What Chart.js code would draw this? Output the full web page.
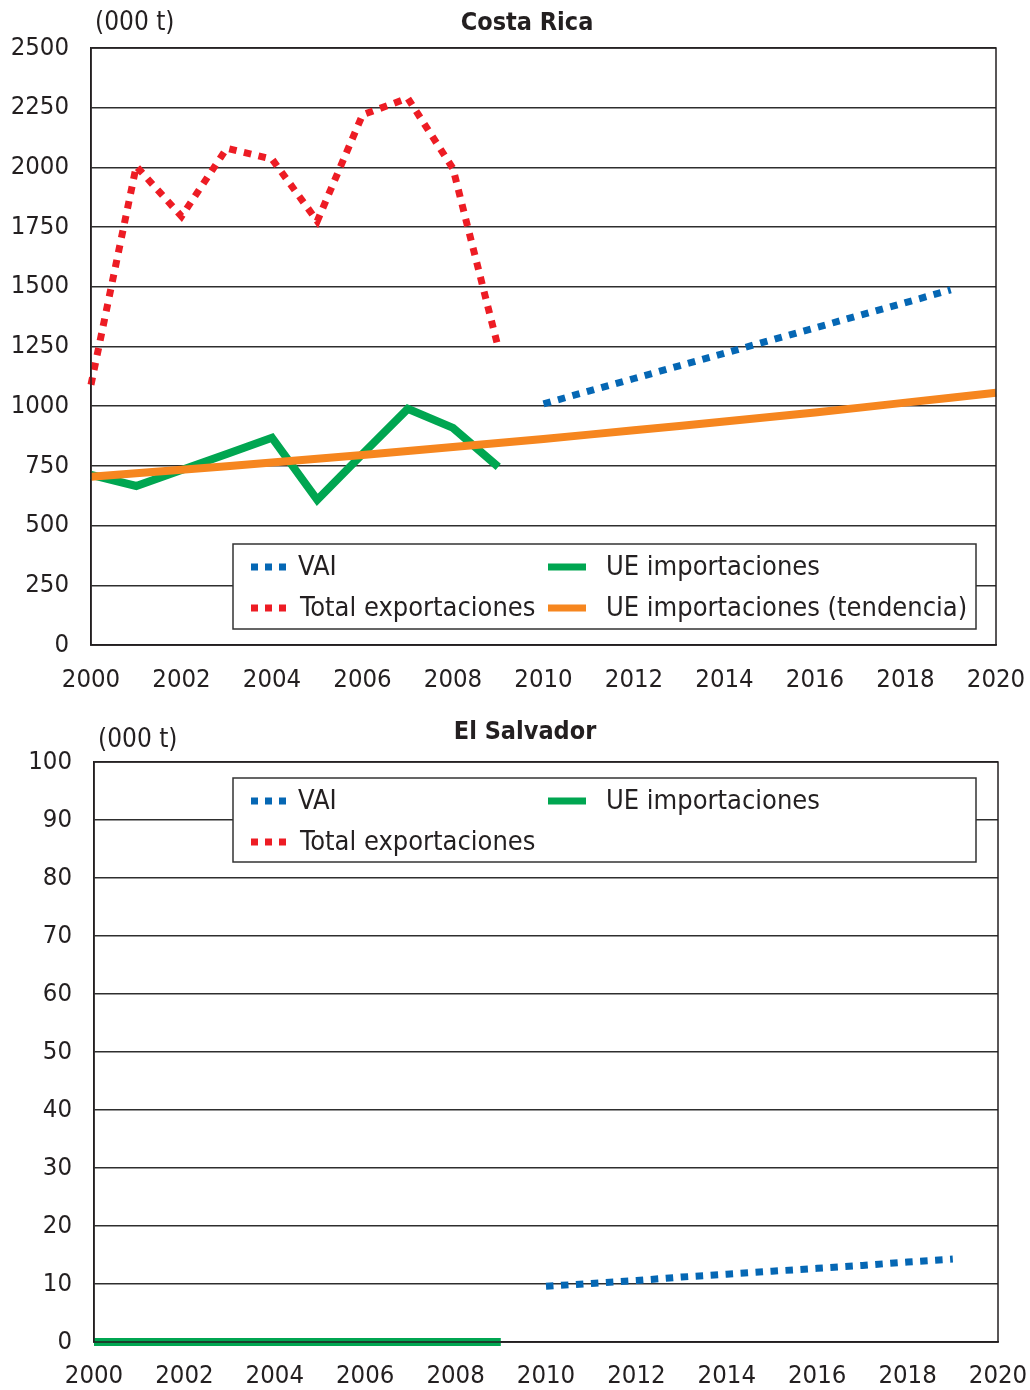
<!DOCTYPE html>
<html>
<head>
<meta charset="utf-8">
<script src="https://cdn.jsdelivr.net/npm/chart.js@4.4.1/dist/chart.umd.min.js"></script>
<style>
  html, body { margin: 0; padding: 0; background: #ffffff; }
  canvas { display: block; }
</style>
</head>
<body>
<canvas id="cr" width="1030" height="705"></canvas>
<canvas id="sv" width="1030" height="685"></canvas>
<script>
// ---------- DATA ----------
const histYears = [2000, 2001, 2002, 2003, 2004, 2005, 2006, 2007, 2008, 2009];
const trendYears = [2000, 2001, 2002, 2003, 2004, 2005, 2006, 2007, 2008, 2009, 2010,
                    2011, 2012, 2013, 2014, 2015, 2016, 2017, 2018, 2019, 2020];
const vaiYears = [2010, 2011, 2012, 2013, 2014, 2015, 2016, 2017, 2018, 2019];

// Costa Rica (000 t)
const crTotalExport = [1090, 2005, 1795, 2080, 2035, 1775, 2220, 2290, 1995, 1245];
const crEuImport = [712, 666, 733, 800, 868, 608, 800, 989, 909, 746];
const crEuTrend = [705, 719, 734, 749, 764, 780, 796, 812, 829, 846, 863,
                   881, 899, 917, 936, 955, 974, 994, 1015, 1035, 1056];
const crVai = [1010, 1063, 1116, 1169, 1222, 1275, 1328, 1381, 1434, 1487];

// El Salvador (000 t)
const svEuImport = [0, 0, 0, 0, 0, 0, 0, 0, 0, 0];
const svVai = [9.6, 10.1, 10.6, 11.2, 11.7, 12.2, 12.7, 13.2, 13.8, 14.3];

const xTickStep = 2;
const crYMax = 2500, crYStep = 250;
const svYMax = 100, svYStep = 10;

const labelVai = 'VAI';
const labelTotal = 'Total exportaciones';
const labelEu = 'UE importaciones';
const labelTrend = 'UE importaciones (tendencia)';

// ---------- STYLE ----------
const FONT = "'DejaVu Sans Condensed', 'Open Sans', sans-serif";
const TXT = '#231f20';
const C_BLUE = '#0567b4';
const C_RED = '#ed1c24';
const C_GREEN = '#00a651';
const C_ORANGE = '#f6861f';

function pts(xs, ys) { return xs.map((x, i) => ({ x: x, y: ys[i] })); }

function dotted(label, xs, ys, color) {
  return { label, data: pts(xs, ys), borderColor: color, backgroundColor: color,
    borderWidth: 7, borderDash: [7.5, 7.5], borderCapStyle: 'butt', pointRadius: 0,
    tension: 0, fill: false, clip: false, _kind: 'dot' };
}
function solid(label, xs, ys, color) {
  return { label, data: pts(xs, ys), borderColor: color, backgroundColor: color,
    borderWidth: 8, borderCapStyle: 'butt', borderJoinStyle: 'miter', pointRadius: 0,
    tension: 0, fill: false, clip: false, _kind: 'solid' };
}

const framePlugin = {
  id: 'frame',
  afterDraw(chart, args, opts) {
    const ctx = chart.ctx, a = chart.chartArea;
    ctx.save();
    // plot frame
    ctx.strokeStyle = TXT; ctx.lineWidth = 1.5;
    ctx.strokeRect(a.left, a.top, a.right - a.left, a.bottom - a.top);
    // titles
    ctx.fillStyle = TXT;
    ctx.textBaseline = 'middle';
    ctx.font = "26px " + FONT;
    ctx.textAlign = 'left';
    ctx.fillText('(000 t)', opts.unitX, opts.unitY);
    ctx.font = "bold 25px " + FONT;
    ctx.textAlign = 'center';
    ctx.fillText(opts.title, opts.titleX, opts.titleY);
    // legend box
    const b = opts.box;
    ctx.fillStyle = '#ffffff';
    ctx.fillRect(b.x, b.y, b.w, b.h);
    ctx.strokeStyle = '#333333'; ctx.lineWidth = 1.5;
    ctx.strokeRect(b.x, b.y, b.w, b.h);
    ctx.font = "27px " + FONT;
    ctx.textAlign = 'left';
    opts.items.forEach(it => {
      const ds = chart.data.datasets[it.ds];
      const y = b.y + it.dy;
      ctx.fillStyle = ds.borderColor;
      if (ds._kind === 'dot') {
        for (let k = 0; k < 3; k++) ctx.fillRect(it.sx + k * 14, y - 3.5, 7, 7);
      } else {
        ctx.fillRect(it.sx, y - 3.5, 38, 7);
      }
      ctx.fillStyle = TXT;
      ctx.fillText(ds.label, it.tx, y + 1);
    });
    ctx.restore();
  }
};

function makeChart(id, datasets, yMax, yStep, yAxisWidth, xAxisHeight, xPad, pad, frame) {
  return new Chart(document.getElementById(id), {
    type: 'line',
    data: { datasets },
    options: {
      responsive: false,
      animation: false,
      layout: { padding: pad },
      plugins: { legend: { display: false }, tooltip: { enabled: false }, title: { display: false }, frame },
      scales: {
        x: {
          type: 'linear', min: 2000, max: 2020,
          ticks: { stepSize: xTickStep, color: TXT, font: { family: FONT, size: 25.5 }, padding: xPad,
                   maxRotation: 0, callback: v => String(v) },
          grid: { display: false, drawTicks: false },
          border: { display: true, color: TXT, width: 1.5 },
          afterFit: s => { s.height = xAxisHeight; s.paddingLeft = 0; s.paddingRight = 0; }
        },
        y: {
          min: 0, max: yMax,
          ticks: { stepSize: yStep, color: TXT, font: { family: FONT, size: 25.5 }, padding: 22,
                   callback: v => String(v) },
          grid: { color: '#2e2e2e', lineWidth: 1.5, drawTicks: false },
          border: { display: true, color: TXT, width: 1.5 },
          afterFit: s => { s.width = yAxisWidth; s.paddingTop = 0; s.paddingBottom = 0; }
        }
      }
    },
    plugins: [framePlugin]
  });
}

// Costa Rica
makeChart('cr', [
  dotted(labelVai, vaiYears, crVai, C_BLUE),
  dotted(labelTotal, histYears, crTotalExport, C_RED),
  solid(labelTrend, trendYears, crEuTrend, C_ORANGE),
  solid(labelEu, histYears, crEuImport, C_GREEN)
], crYMax, crYStep, 91, 60, 20, { top: 48, right: 34, left: 0, bottom: 0 }, {
  title: 'Costa Rica', titleX: 527, titleY: 23, unitX: 95, unitY: 23,
  box: { x: 233, y: 544, w: 743, h: 85 },
  items: [
    { ds: 0, dy: 23, sx: 251, tx: 298 },
    { ds: 1, dy: 64, sx: 251, tx: 300 },
    { ds: 3, dy: 23, sx: 548, tx: 606 },
    { ds: 2, dy: 64, sx: 548, tx: 606 }
  ]
});

// El Salvador
makeChart('sv', [
  dotted(labelVai, vaiYears, svVai, C_BLUE),
  dotted(labelTotal, [], [], C_RED),
  solid(labelEu, histYears, svEuImport, C_GREEN)
], svYMax, svYStep, 94, 48, 19, { top: 57, right: 32, left: 0, bottom: 0 }, {
  title: 'El Salvador', titleX: 525, titleY: 27, unitX: 98, unitY: 35,
  box: { x: 233, y: 73, w: 743, h: 84 },
  items: [
    { ds: 0, dy: 23, sx: 251, tx: 298 },
    { ds: 1, dy: 64, sx: 251, tx: 300 },
    { ds: 2, dy: 23, sx: 548, tx: 606 }
  ]
});
</script>
</body>
</html>
